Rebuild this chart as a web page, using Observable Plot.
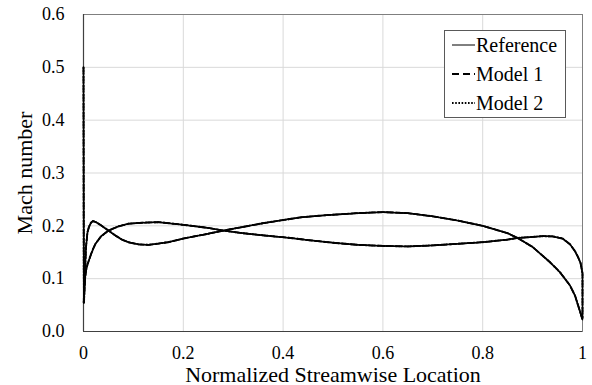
<!DOCTYPE html>
<html>
<head>
<meta charset="utf-8">
<script src="https://cdn.jsdelivr.net/npm/d3@7"></script>
<script src="https://cdn.jsdelivr.net/npm/@observablehq/plot@0.6"></script>
<style>
  html, body { margin: 0; padding: 0; background: #fff; }
  #wrap { position: relative; width: 592px; height: 385px; }
  #legend {
    position: absolute; left: 444px; top: 30px; width: 120px; height: 86px;
    border: 1px solid #595959; background: #fff; box-sizing: content-box;
    font-size: 20px; color: #000;
  }
  .row { position: absolute; left: 7px; height: 24px; display: flex; align-items: center; white-space: nowrap; }
  .row svg { margin-right: 1px; }
</style>
</head>
<body>
<div id="wrap"><div id="chart"></div><div id="legend"></div></div>
<script>
// Series names
const seriesNames = ["Reference", "Model 1", "Model 2"];

// Curve A: starts at 0.5 at the leading edge, early peak, maximum near x = 0.6
const xA = [0, 0.0003, 0.0006, 0.001, 0.002, 0.003, 0.005, 0.008, 0.011, 0.015, 0.019, 0.025, 0.035, 0.05, 0.065, 0.077, 0.09, 0.11, 0.13, 0.147, 0.17, 0.2, 0.25, 0.28, 0.32, 0.36, 0.4, 0.435, 0.47, 0.5, 0.55, 0.6, 0.65, 0.7, 0.75, 0.8, 0.85, 0.87, 0.9, 0.935, 0.955, 0.975, 0.985, 0.991, 0.996, 1.0];
const refA = [0.5, 0.3, 0.12, 0.055, 0.08, 0.11, 0.16, 0.188, 0.198, 0.206, 0.209, 0.207, 0.201, 0.191, 0.181, 0.174, 0.169, 0.165, 0.164, 0.166, 0.169, 0.176, 0.185, 0.191, 0.198, 0.205, 0.211, 0.216, 0.219, 0.221, 0.224, 0.226, 0.224, 0.218, 0.21, 0.2, 0.186, 0.177, 0.16, 0.131, 0.112, 0.087, 0.068, 0.05, 0.035, 0.022];
const m1A  = [0.5, 0.3, 0.12, 0.055, 0.08, 0.11, 0.16, 0.188, 0.198, 0.206, 0.209, 0.207, 0.201, 0.191, 0.181, 0.174, 0.169, 0.165, 0.164, 0.166, 0.169, 0.176, 0.185, 0.191, 0.198, 0.205, 0.211, 0.216, 0.219, 0.221, 0.224, 0.226, 0.224, 0.218, 0.21, 0.2, 0.186, 0.177, 0.16, 0.131, 0.112, 0.087, 0.068, 0.05, 0.035, 0.022];
const m2A  = [0.5, 0.3, 0.12, 0.055, 0.08, 0.11, 0.16, 0.188, 0.198, 0.206, 0.209, 0.207, 0.201, 0.191, 0.181, 0.174, 0.169, 0.165, 0.164, 0.166, 0.169, 0.176, 0.185, 0.191, 0.198, 0.205, 0.211, 0.216, 0.219, 0.221, 0.224, 0.226, 0.224, 0.218, 0.21, 0.2, 0.186, 0.177, 0.16, 0.131, 0.112, 0.087, 0.068, 0.05, 0.035, 0.022];

// Curve B: rises from the leading edge, minimum near x = 0.6, closes at trailing edge
const xB = [0.0005, 0.001, 0.0026, 0.005, 0.008, 0.0106, 0.015, 0.02, 0.024, 0.035, 0.05, 0.07, 0.09, 0.12, 0.15, 0.2, 0.25, 0.28, 0.32, 0.36, 0.415, 0.45, 0.5, 0.55, 0.6, 0.65, 0.7, 0.75, 0.8, 0.85, 0.869, 0.9, 0.921, 0.94, 0.96, 0.975, 0.985, 0.991, 0.996, 1.0, 1.0];
const refB = [0.055, 0.07, 0.096, 0.115, 0.127, 0.134, 0.146, 0.158, 0.166, 0.18, 0.191, 0.199, 0.204, 0.206, 0.207, 0.202, 0.196, 0.191, 0.186, 0.182, 0.177, 0.173, 0.168, 0.164, 0.162, 0.161, 0.163, 0.166, 0.169, 0.174, 0.177, 0.179, 0.1805, 0.18, 0.176, 0.165, 0.152, 0.141, 0.13, 0.11, 0.025];
const m1B  = [0.055, 0.07, 0.096, 0.115, 0.127, 0.134, 0.146, 0.158, 0.166, 0.18, 0.191, 0.199, 0.204, 0.206, 0.207, 0.202, 0.196, 0.191, 0.186, 0.182, 0.177, 0.173, 0.168, 0.164, 0.162, 0.161, 0.163, 0.166, 0.169, 0.174, 0.177, 0.179, 0.1805, 0.18, 0.176, 0.165, 0.152, 0.141, 0.13, 0.11, 0.025];
const m2B  = [0.055, 0.07, 0.096, 0.115, 0.127, 0.134, 0.146, 0.158, 0.166, 0.18, 0.191, 0.199, 0.204, 0.206, 0.207, 0.202, 0.196, 0.191, 0.186, 0.182, 0.177, 0.173, 0.168, 0.164, 0.162, 0.161, 0.163, 0.166, 0.169, 0.174, 0.177, 0.179, 0.1805, 0.18, 0.176, 0.165, 0.152, 0.141, 0.13, 0.11, 0.025];

const xTicks = [0, 0.2, 0.4, 0.6, 0.8, 1];
const xTickLabels = ["0", "0.2", "0.4", "0.6", "0.8", "1"];
const yTicks = [0, 0.1, 0.2, 0.3, 0.4, 0.5, 0.6];
const yTickLabels = ["0.0", "0.1", "0.2", "0.3", "0.4", "0.5", "0.6"];

const styles = {
  "Reference": {strokeWidth: 1, dash: null},
  "Model 1": {strokeWidth: 1.8, dash: "6,3"},
  "Model 2": {strokeWidth: 1.9, dash: "1.5,1.5"}
};

// Pick an installed serif face if there is one (reference uses Times-like type)
function detectFont() {
  const c = document.createElement("canvas").getContext("2d");
  const sample = "Normalized Streamwise Location 0.123 Mach";
  const base = {};
  for (const g of ["monospace", "sans-serif"]) { c.font = `40px ${g}`; base[g] = c.measureText(sample).width; }
  const candidates = ["Liberation Serif", "Times New Roman", "Tinos", "Nimbus Roman", "Nimbus Roman No9 L", "FreeSerif", "Noto Serif", "DejaVu Serif", "Times"];
  for (const f of candidates) {
    let differs = true;
    for (const g of ["monospace", "sans-serif"]) {
      c.font = `40px "${f}", ${g}`;
      if (Math.abs(c.measureText(sample).width - base[g]) < 0.5) differs = false;
    }
    if (differs) return `"${f}", serif`;
  }
  return `"Liberation Sans", Arial, sans-serif`;
}
const font = detectFont();
document.getElementById("legend").style.fontFamily = font;
const tickSize = 18;
const titleSize = 22;

function rows(xs, ys, series, curve) {
  return xs.map((x, i) => ({x, y: ys[i], series, curve}));
}
const data = [
  ...rows(xA, refA, "Reference", "A"), ...rows(xB, refB, "Reference", "B"),
  ...rows(xA, m1A, "Model 1", "A"), ...rows(xB, m1B, "Model 1", "B"),
  ...rows(xA, m2A, "Model 2", "A"), ...rows(xB, m2B, "Model 2", "B")
];

const lineMarks = seriesNames.map(s => Plot.line(data.filter(d => d.series === s), {
  x: "x", y: "y", z: "curve", stroke: "#000",
  strokeWidth: styles[s].strokeWidth,
  strokeDasharray: styles[s].dash ?? undefined,
  curve: "linear"
}));

const chart = Plot.plot({
  width: 592, height: 385,
  marginLeft: 83, marginRight: 10, marginTop: 14, marginBottom: 54,
  style: {fontFamily: font, fontSize: "18px", color: "#000", background: "#fff", overflow: "visible"},
  x: {domain: [0, 1]},
  y: {domain: [0, 0.6]},
  marks: [
    Plot.gridX(xTicks.slice(1, -1), {stroke: "#d9d9d9", strokeOpacity: 1}),
    Plot.gridY(yTicks.slice(1, -1), {stroke: "#d9d9d9", strokeOpacity: 1}),
    Plot.frame({stroke: "#7f7f7f"}),
    Plot.ruleY([0], {stroke: "#404040", strokeWidth: 1.2}),
    Plot.ruleX([0], {stroke: "#404040", strokeWidth: 1.2}),
    Plot.axisX({ticks: xTicks, tickFormat: d => xTickLabels[xTicks.indexOf(d)], tickSize: 0, tickPadding: 15, fontSize: tickSize, label: null}),
    Plot.axisY({ticks: yTicks, tickFormat: d => yTickLabels[yTicks.findIndex(t => Math.abs(t - d) < 1e-9)], tickSize: 0, tickPadding: 19, fontSize: tickSize, label: null}),
    Plot.axisX({ticks: [], tickSize: 0, fontSize: titleSize,
      label: "Normalized Streamwise Location", labelAnchor: "center", labelArrow: "none", labelOffset: 50}),
    Plot.axisY({ticks: [], tickSize: 0, fontSize: titleSize,
      label: "Mach number", labelAnchor: "center", labelArrow: "none", labelOffset: 67}),
    ...lineMarks
  ]
});
document.getElementById("chart").appendChild(chart);

// Legend (HTML overlay inside plot area)
const legend = document.getElementById("legend");
seriesNames.forEach((s, i) => {
  const row = document.createElement("div");
  row.className = "row";
  row.style.top = (2 + i * 29) + "px";
  const ns = "http://www.w3.org/2000/svg";
  const sv = document.createElementNS(ns, "svg");
  sv.setAttribute("width", 23); sv.setAttribute("height", 10);
  const ln = document.createElementNS(ns, "line");
  ln.setAttribute("x1", 0); ln.setAttribute("x2", 23); ln.setAttribute("y1", 5); ln.setAttribute("y2", 5);
  ln.setAttribute("stroke", "#000");
  ln.setAttribute("stroke-width", s === "Reference" ? 1 : 1.8);
  if (styles[s].dash) ln.setAttribute("stroke-dasharray", s === "Model 1" ? "7,4" : "1.6,1.6");
  sv.appendChild(ln);
  const t = document.createElement("span");
  t.textContent = s;
  row.appendChild(sv); row.appendChild(t);
  legend.appendChild(row);
});
</script>
</body>
</html>
